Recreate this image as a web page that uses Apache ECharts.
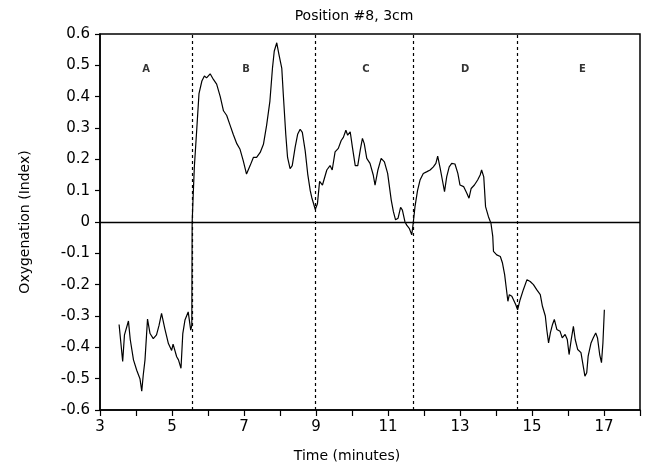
<!DOCTYPE html>
<html>
<head>
<meta charset="utf-8">
<script src="https://cdn.jsdelivr.net/npm/echarts@6/dist/echarts.min.js"></script>
<style>
  html, body { margin: 0; padding: 0; background: #fff; }
  #chart { width: 664px; height: 468px; }
</style>
</head>
<body>
<div id="chart"></div>
<script>
// time (minutes) and oxygenation index
const timeMin = [
  3.53, 3.63, 3.68, 3.79, 3.84, 3.93, 4.02, 4.11, 4.16, 4.20, 4.25, 4.32, 4.39, 4.48, 4.57, 4.64, 4.71, 4.80, 4.90, 4.99,
  5.03, 5.08, 5.13, 5.18, 5.25, 5.30, 5.36, 5.45, 5.52, 5.55, 5.56,
  5.58, 5.62, 5.69, 5.75, 5.83, 5.90, 5.96, 6.06, 6.15, 6.24, 6.34, 6.43, 6.52, 6.61, 6.70, 6.80, 6.89, 6.98, 7.07, 7.17,
  7.26, 7.35, 7.45, 7.54, 7.63, 7.72, 7.79, 7.84, 7.91, 7.97, 8.05, 8.09, 8.16, 8.21, 8.28, 8.34, 8.42, 8.49, 8.56, 8.62,
  8.70, 8.77, 8.84, 8.88, 8.93, 8.98, 9.04, 9.10, 9.14, 9.18, 9.30, 9.39, 9.45, 9.53, 9.62, 9.70, 9.76, 9.83, 9.88, 9.95,
  10.01, 10.09, 10.16, 10.23, 10.29, 10.34, 10.41, 10.50, 10.59, 10.64, 10.72, 10.81, 10.90, 10.99, 11.09, 11.15, 11.21,
  11.28, 11.35, 11.40, 11.47, 11.52, 11.59, 11.66, 11.70, 11.75, 11.82, 11.89, 11.98, 12.07, 12.17, 12.26, 12.33, 12.38,
  12.45, 12.51, 12.57, 12.63, 12.70, 12.77, 12.86, 12.94, 13.00, 13.10, 13.19, 13.25, 13.31, 13.40, 13.49, 13.56, 13.60,
  13.66, 13.71, 13.79, 13.86, 13.91, 13.93, 14.02, 14.12, 14.18, 14.24, 14.28, 14.33, 14.37, 14.44, 14.49, 14.55, 14.60,
  14.67, 14.76, 14.86, 14.95, 15.04, 15.13, 15.23, 15.29, 15.37, 15.41, 15.46, 15.51, 15.57, 15.62, 15.69, 15.78, 15.84,
  15.92, 15.98, 16.03, 16.09, 16.15, 16.20, 16.27, 16.36, 16.43, 16.47, 16.52, 16.56, 16.64, 16.70, 16.77, 16.82, 16.88,
  16.93, 16.97, 17.01
];
const oxyIndex = [
  -0.327, -0.445, -0.36, -0.316, -0.375, -0.44, -0.473, -0.50, -0.54, -0.49, -0.44, -0.31, -0.356, -0.372, -0.36, -0.33, -0.292, -0.34, -0.388, -0.41,
  -0.39, -0.388, -0.43, -0.44, -0.467, -0.356, -0.313, -0.287, -0.345, -0.33, 0.0,
  0.06, 0.174, 0.30, 0.41, 0.45, 0.466, 0.46, 0.473, 0.455, 0.44, 0.40, 0.355, 0.34, 0.31, 0.28, 0.25, 0.232, 0.195, 0.153, 0.18,
  0.206, 0.206, 0.222, 0.248, 0.31, 0.386, 0.49, 0.545, 0.572, 0.535, 0.49, 0.41, 0.28, 0.206, 0.17, 0.18, 0.238, 0.28, 0.296, 0.286,
  0.227, 0.153, 0.10, 0.079, 0.08, 0.040, 0.058, 0.13, 0.128, 0.118, 0.166, 0.18, 0.166, 0.224, 0.235, 0.26, 0.27, 0.293, 0.277, 0.288,
  0.24, 0.18, 0.18, 0.23, 0.267, 0.25, 0.203, 0.187, 0.15, 0.118, 0.166, 0.203, 0.192, 0.155, 0.07, 0.033, 0.007,
  0.012, 0.047, 0.038, 0.001, -0.01, -0.02, -0.041, -0.004, 0.049, 0.10, 0.134, 0.155, 0.16, 0.166, 0.176, 0.187, 0.21,
  0.171, 0.134, 0.097, 0.144, 0.176, 0.187, 0.185, 0.155, 0.118, 0.113, 0.092, 0.076, 0.107, 0.118, 0.134, 0.15, 0.166,
  0.144, 0.049, 0.017, -0.004, -0.046, -0.094, -0.105, -0.11, -0.131, -0.168, -0.206, -0.253, -0.232, -0.237, -0.232, -0.264, -0.28,
  -0.248, -0.216, -0.184, -0.19, -0.20, -0.216, -0.232, -0.269, -0.30, -0.343, -0.386, -0.354, -0.327, -0.311, -0.343, -0.349, -0.37,
  -0.359, -0.375, -0.423, -0.375, -0.333, -0.375, -0.407, -0.417, -0.465, -0.492, -0.481, -0.428, -0.386, -0.37, -0.354, -0.37, -0.423,
  -0.449, -0.386, -0.28
];

// phase boundaries (dashed) and phase labels
const phaseBounds = [5.55, 8.97, 11.7, 14.6];
const phaseNames = ['A', 'B', 'C', 'D', 'E'];
const phaseLabelX = [4.28, 7.06, 10.39, 13.14, 16.4];
const phaseLabelY = 0.487;

const trace = timeMin.map((t, i) => [t, oxyIndex[i]]);

const font = 'DejaVu Sans';
const myChart = echarts.init(document.getElementById('chart'));

const option = {
  animation: false,
  title: {
    text: 'Position #8, 3cm',
    left: 349,
    textAlign: 'center',
    top: 4,
    textStyle: { fontFamily: font, fontSize: 14, fontWeight: 'normal', color: '#000' }
  },
  grid: {
    left: 100,
    right: 24,
    top: 34,
    bottom: 57,
    show: true,
    borderColor: '#000',
    borderWidth: 1.5,
    backgroundColor: 'transparent'
  },
  xAxis: {
    type: 'value',
    min: 3,
    max: 18,
    interval: 1,
    name: 'Time (minutes)',
    nameLocation: 'middle',
    nameGap: 39,
    nameTextStyle: { fontFamily: font, fontSize: 14, color: '#000', padding: [0, 46, 0, 0] },
    axisLine: { onZero: false, lineStyle: { color: '#000', width: 1.5 } },
    axisTick: { show: true, length: 6, lineStyle: { color: '#000', width: 1.2 } },
    axisLabel: {
      fontFamily: font,
      fontSize: 15,
      color: '#000',
      margin: 10,
      formatter: v => (v % 2 === 1 && v < 18 ? String(v) : '')
    },
    splitLine: { show: false }
  },
  yAxis: {
    type: 'value',
    min: -0.6,
    max: 0.6,
    interval: 0.1,
    name: 'Oxygenation (Index)',
    nameLocation: 'middle',
    nameGap: 68,
    nameTextStyle: { fontFamily: font, fontSize: 14, color: '#000' },
    axisLine: { show: true, onZero: false, lineStyle: { color: '#000', width: 1.5 } },
    axisTick: { show: true, length: 5, lineStyle: { color: '#000', width: 1.2 } },
    axisLabel: {
      fontFamily: font,
      fontSize: 15,
      color: '#000',
      margin: 10,
      formatter: v => (Math.abs(v) < 1e-9 ? '0' : v.toFixed(1))
    },
    splitLine: { show: false }
  },
  series: [
    {
      type: 'line',
      data: trace,
      showSymbol: false,
      symbol: 'none',
      lineStyle: { color: '#000', width: 1.2 },
      markLine: {
        silent: true,
        symbol: 'none',
        label: { show: false },
        data: [
          { yAxis: 0, lineStyle: { type: 'solid', color: '#000', width: 1.3 } },
          ...phaseBounds.map(b => ({ xAxis: b, lineStyle: { type: [3, 3], color: '#000', width: 1.2 } }))
        ]
      }
    },
    {
      type: 'scatter',
      symbolSize: 0,
      data: phaseNames.map((n, i) => ({ name: n, value: [phaseLabelX[i], phaseLabelY] })),
      label: {
        show: true,
        position: 'inside',
        formatter: p => p.name,
        fontFamily: font,
        fontSize: 10,
        fontWeight: 'bold',
        color: '#000'
      }
    }
  ]
};
myChart.setOption(option);
</script>
</body>
</html>
